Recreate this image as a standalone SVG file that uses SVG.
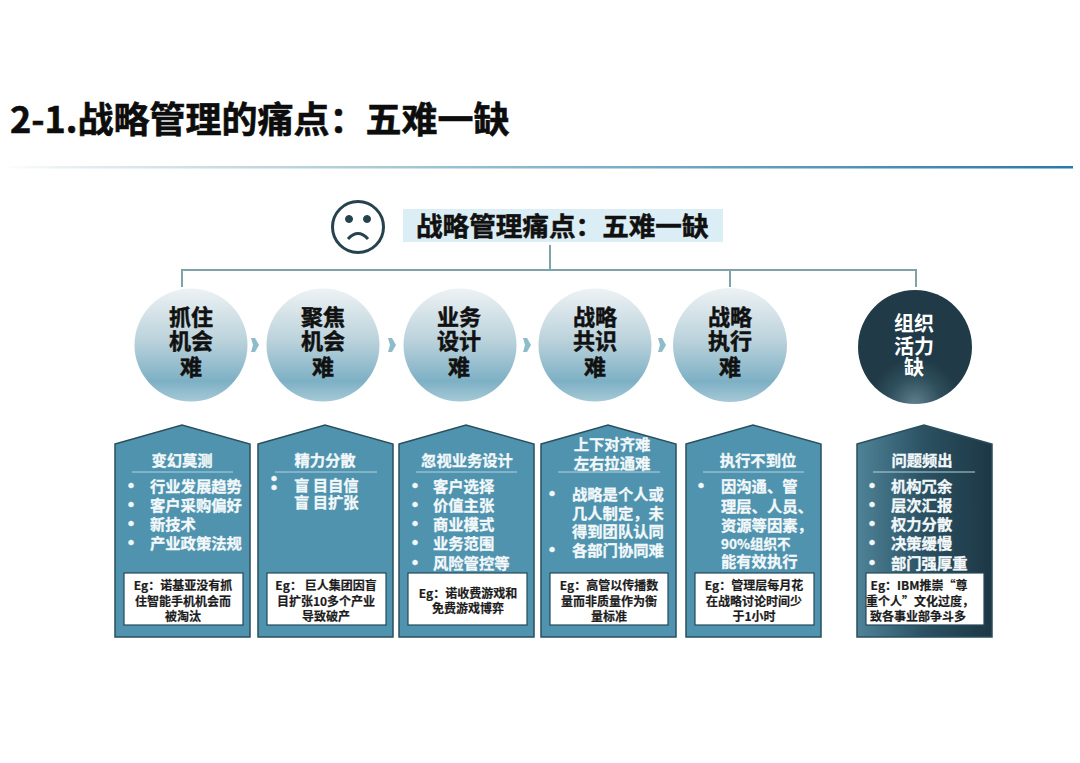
<svg xmlns="http://www.w3.org/2000/svg" width="1080" height="763" viewBox="0 0 1080 763">
<style>
text{font-family:"Noto Sans CJK SC","Noto Sans",sans-serif;font-weight:700}
.t{fill:#0d0d0d;font-size:36px;stroke:#0d0d0d;stroke-width:.6px}
.hd{fill:#111;font-size:26.6px;stroke:#111;stroke-width:.5px}
.c{fill:#111;font-size:22px;text-anchor:middle;stroke:#111;stroke-width:.5px}
.cw{fill:#fff;font-size:20px;text-anchor:middle}
.card{fill:#4f93ae;stroke:#2a4f5e;stroke-width:1.5}
.dark{fill:url(#darkCard);stroke:#2a4f5e;stroke-width:1.5}
.bub{fill:url(#bubble)}
.h{fill:#f2f8fa;font-size:15.3px;text-anchor:middle;stroke:#f2f8fa;stroke-width:.3px}
.b{fill:#f2f8fa;font-size:15.3px;stroke:#f2f8fa;stroke-width:.3px}
.bu{font-size:20px}
.sm{font-size:13.5px}
.div{stroke:#b5d3de;stroke-width:1}
.ebox{fill:#fff;stroke:#24495a;stroke-width:1.2}
.e{fill:#1c1c1c;font-size:12px;text-anchor:middle;stroke:#1c1c1c;stroke-width:.2px}
.conn{fill:none;stroke:#7ea3a9;stroke-width:2}
.chev{fill:#8fbccb}
</style>
<defs>
<linearGradient id="rule" x1="0" x2="1" y1="0" y2="0"><stop offset="0" stop-color="#ffffff"/><stop offset=".08" stop-color="#e3ecef"/><stop offset=".5" stop-color="#8ab7ca"/><stop offset="1" stop-color="#2a79a8"/></linearGradient>
<linearGradient id="bubble" x1="0" x2="0" y1="0" y2="1"><stop offset="0" stop-color="#edf2f4"/><stop offset=".45" stop-color="#bcd3dc"/><stop offset=".82" stop-color="#7db0c5"/><stop offset="1" stop-color="#a6c9d6"/></linearGradient>
<radialGradient id="darkBub" cx=".5" cy="1" r=".4"><stop offset="0" stop-color="#5f7f8c"/><stop offset=".6" stop-color="#2f4e5b"/><stop offset="1" stop-color="#203b47"/></radialGradient>
<linearGradient id="darkCard" x1="0" x2="1" y1="0" y2="0"><stop offset="0" stop-color="#4f8398"/><stop offset=".5" stop-color="#2b5162"/><stop offset="1" stop-color="#1d3744"/></linearGradient>
<path id="chevron" d="M-4,-7 L0,-7 L4,0 L0,7 L-4,7 L-2,0 Z"/>
</defs>
<rect width="1080" height="763" fill="#fff"/>
<text class="t" x="10" y="133">2-1.战略管理的痛点：五难一缺</text>
<rect x="0" y="166" width="1073" height="2.5" fill="url(#rule)"/>

<g id="connectors">
<path class="conn" d="M182,287V270H916V287M550,245V270M730,270V287"/>
<use href="#chevron" class="chev" x="255" y="345"/>
<use href="#chevron" class="chev" x="392" y="345"/>
<use href="#chevron" class="chev" x="527" y="345"/>
<use href="#chevron" class="chev" x="662" y="345"/>
</g>

<g id="face" fill="none" stroke="#26424e" stroke-width="3">
<circle cx="358" cy="227" r="25.5"/>
<circle cx="349" cy="219" r="3.5" fill="#26424e" stroke-width="1"/>
<circle cx="367" cy="219" r="3.5" fill="#26424e" stroke-width="1"/>
<path d="M348,239Q358,228 368,239"/>
</g>
<g id="header">
<rect x="403" y="209" width="320" height="33" fill="#dceef5"/>
<text class="hd" x="416" y="236">战略管理痛点：五难一缺</text>
</g>

<g id="n1"><circle class="bub" cx="191" cy="345" r="56.5"/><text class="c"><tspan x="191" y="325">抓住</tspan><tspan x="191" y="349">机会</tspan><tspan x="191" y="375">难</tspan></text></g>
<g id="n2"><circle class="bub" cx="323" cy="345" r="56.5"/><text class="c"><tspan x="323" y="325">聚焦</tspan><tspan x="323" y="349">机会</tspan><tspan x="323" y="375">难</tspan></text></g>
<g id="n3"><circle class="bub" cx="460" cy="345" r="56.5"/><text class="c"><tspan x="459" y="325">业务</tspan><tspan x="459" y="349">设计</tspan><tspan x="459" y="375">难</tspan></text></g>
<g id="n4"><circle class="bub" cx="595" cy="345" r="56.5"/><text class="c"><tspan x="595" y="325">战略</tspan><tspan x="595" y="349">共识</tspan><tspan x="595" y="375">难</tspan></text></g>
<g id="n5"><circle class="bub" cx="730" cy="345" r="57"/><text class="c"><tspan x="730" y="325">战略</tspan><tspan x="730" y="349">执行</tspan><tspan x="730" y="375">难</tspan></text></g>
<g id="n6"><circle cx="915" cy="347" r="57" fill="url(#darkBub)"/><text class="cw"><tspan x="914" y="331">组织</tspan><tspan x="914" y="354">活力</tspan><tspan x="914" y="375">缺</tspan></text></g>

<g id="card1">
<path class="card" d="M115,444L182,425L250,444V637H115Z"/>
<text class="h" x="182" y="466">变幻莫测</text>
<line class="div" x1="132" x2="233" y1="472" y2="472"/>
<text class="b"><tspan class="bu" x="121" y="493">•</tspan><tspan x="150" y="492">行业发展趋势</tspan><tspan class="bu" x="121" y="512">•</tspan><tspan x="150" y="511">客户采购偏好</tspan><tspan class="bu" x="121" y="531">•</tspan><tspan x="150" y="530">新技术</tspan><tspan class="bu" x="121" y="550">•</tspan><tspan x="150" y="549">产业政策法规</tspan></text>
<rect class="ebox" x="124" y="573" width="119" height="52"/>
<text class="e"><tspan x="183" y="590">Eg：诺基亚没有抓</tspan><tspan x="183" y="606">住智能手机机会而</tspan><tspan x="183" y="621">被淘汰</tspan></text>
</g>
<g id="card2">
<path class="card" d="M258,444L325,425L393,444V637H258Z"/>
<text class="h" x="325" y="466">精力分散</text>
<line class="div" x1="275" x2="377" y1="472" y2="472"/>
<text class="b"><tspan class="bu" x="264" y="486">•</tspan><tspan class="bu" x="264" y="495">•</tspan></text>
<text class="b"><tspan x="294" y="491">盲 目自信</tspan><tspan x="294" y="508">盲 目扩张</tspan></text>
<rect class="ebox" x="267" y="573" width="119" height="52"/>
<text class="e"><tspan x="326" y="590">Eg： 巨人集团因盲</tspan><tspan x="326" y="606">目扩张10多个产业</tspan><tspan x="326" y="621">导致破产</tspan></text>
</g>
<g id="card3">
<path class="card" d="M399,444L466,425L534,444V637H399Z"/>
<text class="h" x="467" y="466">忽视业务设计</text>
<line class="div" x1="416" x2="517" y1="472" y2="472"/>
<text class="b"><tspan class="bu" x="405" y="493">•</tspan><tspan x="433" y="492">客户选择</tspan><tspan class="bu" x="405" y="512">•</tspan><tspan x="433" y="511">价值主张</tspan><tspan class="bu" x="405" y="531">•</tspan><tspan x="433" y="530">商业模式</tspan><tspan class="bu" x="405" y="550">•</tspan><tspan x="433" y="549">业务范围</tspan><tspan class="bu" x="405" y="570">•</tspan><tspan x="433" y="569">风险管控等</tspan></text>
<rect class="ebox" x="408" y="573" width="119" height="52"/>
<text class="e"><tspan x="468" y="598">Eg：诺收费游戏和</tspan><tspan x="468" y="613">免费游戏博弈</tspan></text>
</g>
<g id="card4">
<path class="card" d="M541,444L608,425L676,444V637H541Z"/>
<text class="h"><tspan x="612" y="450">上下对齐难</tspan><tspan x="612" y="469">左右拉通难</tspan></text>
<line class="div" x1="558" x2="660" y1="472" y2="472"/>
<text class="b"><tspan class="bu" x="542" y="501">•</tspan><tspan x="572" y="500">战略是个人或</tspan><tspan x="572" y="519">几人制定，未</tspan><tspan x="572" y="537">得到团队认同</tspan><tspan class="bu" x="542" y="557">•</tspan><tspan x="572" y="556">各部门协同难</tspan></text>
<rect class="ebox" x="550" y="573" width="118" height="52"/>
<text class="e"><tspan x="609" y="590">Eg：高管以传播数</tspan><tspan x="609" y="606">量而非质量作为衡</tspan><tspan x="609" y="621">量标准</tspan></text>
</g>
<g id="card5">
<path class="card" d="M686,444L753,425L821,444V637H686Z"/>
<text class="h" x="758" y="466">执行不到位</text>
<line class="div" x1="703" x2="804" y1="472" y2="472"/>
<text class="b"><tspan class="bu" x="691" y="493">•</tspan><tspan x="721" y="492">因沟通、管</tspan><tspan x="721" y="512">理层、人员、</tspan><tspan x="721" y="531">资源等因素，</tspan><tspan class="sm" x="721" y="549">90%组织不</tspan><tspan x="721" y="567">能有效执行</tspan></text>
<rect class="ebox" x="695" y="573" width="119" height="52"/>
<text class="e"><tspan x="754" y="590">Eg：管理层每月花</tspan><tspan x="754" y="606">在战略讨论时间少</tspan><tspan x="754" y="621">于1小时</tspan></text>
</g>
<g id="card6">
<path class="dark" d="M857,444L924,425L992,444V637H857Z"/>
<text class="h" x="922" y="466">问题频出</text>
<line class="div" x1="873" x2="975" y1="472" y2="472"/>
<text class="b"><tspan class="bu" x="862" y="493">•</tspan><tspan x="891" y="492">机构冗余</tspan><tspan class="bu" x="862" y="512">•</tspan><tspan x="891" y="511">层次汇报</tspan><tspan class="bu" x="862" y="531">•</tspan><tspan x="891" y="530">权力分散</tspan><tspan class="bu" x="862" y="550">•</tspan><tspan x="891" y="549">决策缓慢</tspan><tspan class="bu" x="862" y="570">•</tspan><tspan x="891" y="569">部门强厚重</tspan></text>
<rect class="ebox" x="866" y="573" width="118" height="52"/>
<text class="e"><tspan x="919" y="590">Eg：IBM推崇“尊</tspan><tspan x="920" y="606">重个人”文化过度，</tspan><tspan x="918" y="621">致各事业部争斗多</tspan></text>
</g>
</svg>
